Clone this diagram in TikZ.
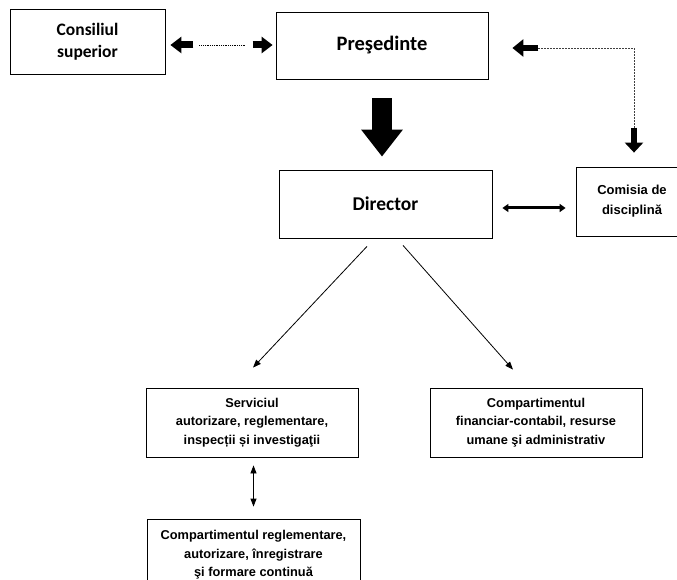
\documentclass[tikz,border=0pt]{standalone}
\usepackage{fontspec}
\usepackage{tikz}
\usetikzlibrary{arrows.meta}
\newfontfamily\calib{Carlito}
\newfontfamily\arialb{Liberation Sans}

\begin{document}
\begin{tikzpicture}[x=1pt, y=-1pt,
	box/.style={draw=black, line width=0.8pt, align=center, inner sep=0pt},
	bigbox/.style={box, font=\calib\bfseries\fontsize{17.5}{22}\selectfont},
	smallbox/.style={box, font=\arialb\bfseries\fontsize{12.8}{18.5}\selectfont},
	blk/.style={line width=7pt, -{Triangle[width=16pt,length=11pt]}},
	dotline/.style={densely dotted, line width=0.8pt},
	dashline/.style={dash pattern=on 2pt off 1pt, line width=0.8pt, black!75},
	thinarr/.style={line width=0.8pt, -{Triangle[width=6pt,length=8pt]}}]
	\useasboundingbox (0,0) rectangle (677,580);
	% top row
	\node[bigbox, minimum width=155, minimum height=65] (cons) at (87.5,41.5) {Consiliul\\superior};
	\node[bigbox, minimum width=212, minimum height=67, font=\calib\bfseries\fontsize{20.5}{24}\selectfont] (pres) at (382,45.5) {Preşedinte};
	\node[bigbox, minimum width=213, minimum height=68, font=\calib\bfseries\fontsize{19.5}{24}\selectfont] (dir) at (385.5,204) {Director};
	\node[smallbox, minimum width=112, minimum height=69, font=\arialb\bfseries\fontsize{13}{20}\selectfont] (com) at (632,201.5) {Comisia de\\disciplină};
	% bottom boxes
	\node[smallbox, minimum width=212, minimum height=69] (serv) at (252,422.5) {Serviciul\\autorizare, reglementare,\\inspecții și investigaţii};
	\node[smallbox, minimum width=212, minimum height=69] (fin) at (536,422.5) {Compartimentul\\financiar-contabil, resurse\\umane şi administrativ};
	\node[smallbox, minimum width=213, minimum height=72] (reg) at (253.5,555) {Compartimentul reglementare,\\autorizare, înregistrare\\şi formare continuă};
	% Consiliul <-> Presedinte
	\draw[blk] ([shift={(28pt,-3.5pt)}]cons.east) -- ([shift={(5pt,-3.5pt)}]cons.east);
	\draw[blk] ([shift={(-23pt,0.5pt)}]pres.west) -- ([shift={(-3pt,0.5pt)}]pres.west);
	\draw[dotline] ([shift={(34pt,-3.5pt)}]cons.east) -- ([shift={(-31pt,0.5pt)}]pres.west);
	% Presedinte <-> Comisia
	\draw[blk, line width=6pt, -{Triangle[width=17pt,length=11pt]}] ([shift={(50pt,-2.5pt)}]pres.east) coordinate (t1) -- ([shift={(24pt,-2.5pt)}]pres.east);
	\draw[blk, line width=6pt, -{Triangle[width=18pt,length=10pt]}] ([shift={(2pt,39pt)}]com.north) coordinate (t2) -- ([shift={(2pt,14pt)}]com.north);
	\draw[dashline] (t1) -| (t2);
	% Presedinte -> Director
	\draw[line width=20pt, -{Triangle[width=40pt,length=27pt]}, shorten <=19pt, shorten >=13pt] (pres.south) -- (pres.south |- dir.north);
	% Director <-> Comisia
	\draw[line width=3pt, {Triangle[width=8pt,length=6pt]}-{Triangle[width=8pt,length=6pt]}, shorten >=10pt] ([shift={(10pt,-4pt)}]dir.east) coordinate (d1) -- (d1 -| com.west);
	% Director -> servicii
	\draw[thinarr] ([shift={(-18.5pt,-8pt)}]dir.south) -- ([shift={(1pt,20pt)}]serv.north);
	\draw[thinarr] ([shift={(17.5pt,-7pt)}]dir.south) -- ([shift={(-23pt,18pt)}]fin.north);
	\draw[thinarr, {Triangle[width=6pt,length=8pt]}-{Triangle[width=6pt,length=8pt]}, shorten <=8pt, shorten >=12pt] ([xshift=1.5pt]serv.south) -- (reg.north);
\end{tikzpicture}
\end{document}
